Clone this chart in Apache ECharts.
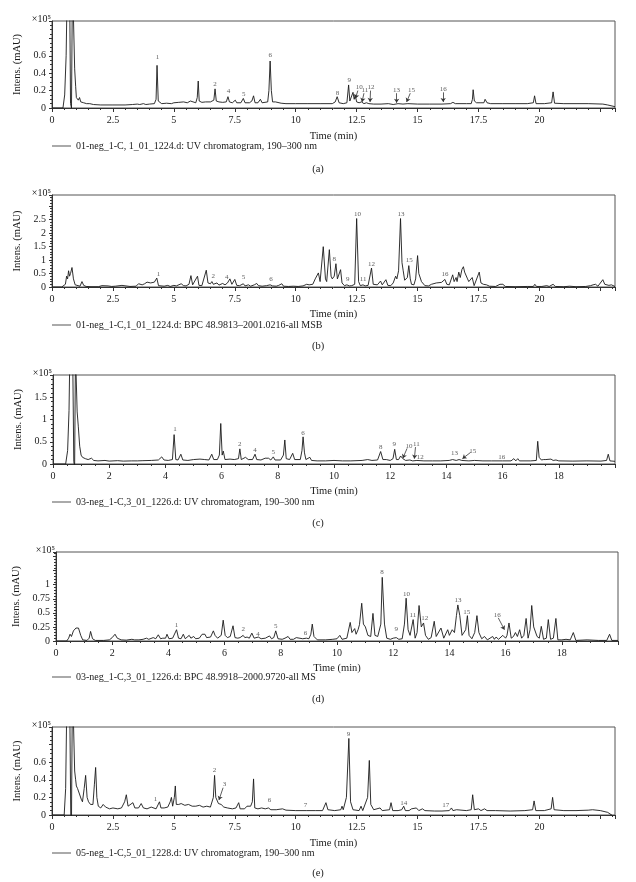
<!DOCTYPE html>
<html>
<head>
<meta charset="utf-8">
<script src="https://cdn.jsdelivr.net/npm/echarts@6/dist/echarts.min.js"></script>
<style>html,body{margin:0;padding:0;background:#fff}#c{width:636px;height:882px}</style>
</head>
<body>
<div id="c"></div>
<script>
// ---------- DATA ----------
const legendA = '01-neg_1-C, 1_01_1224.d: UV chromatogram, 190\u2013300 nm';
const legendB = '01-neg_1-C,1_01_1224.d: BPC 48.9813\u20132001.0216-all MSB';
const legendC = '03-neg_1-C,3_01_1226.d: UV chromatogram, 190\u2013300 nm';
const legendD = '03-neg_1-C,3_01_1226.d: BPC 48.9918\u20132000.9720-all MS';
const legendE = '05-neg_1-C,5_01_1228.d: UV chromatogram, 190\u2013300 nm';

const xTickLabelsA = ['0','2.5','5','7.5','10','12.5','15','17.5','20'];
const xTickLabelsC = ['0','2','4','6','8','10','12','14','16','18'];
const yTickLabelsA = ['0','0.2','0.4','0.6'];
const yTickLabelsB = ['0','0.5','1','1.5','2','2.5'];
const yTickLabelsC = ['0','0.5','1','1.5'];
const yTickLabelsD = ['0','0.25','0.5','0.75','1'];
const yTickLabelsE = ['0','0.2','0.4','0.6'];

// [time (min), intensity (x10^5)]
const traceA = [[0,0],[0.45,0],[0.52,0.15],[0.58,0.6],[0.63,1.5],[0.72,1.5],[0.76,0.05],[0.8,0],[0.84,1.5],[0.9,1.5],[0.93,0.45],[0.97,0.25],[1.0,0.12],[1.04,0.14],[1.08,0.09],[1.13,0.12],[1.18,0.07],[1.25,0.08],[1.3,0.06],[1.36,0.08],[1.42,0.05],[1.55,0.05],[1.7,0.04],[2.0,0.035],[2.5,0.035],[3.0,0.035],[3.3,0.04],[3.5,0.045],[3.6,0.04],[3.75,0.05],[3.85,0.04],[4.0,0.045],[4.2,0.05],[4.27,0.1],[4.31,0.49],[4.36,0.08],[4.42,0.06],[4.5,0.05],[4.7,0.055],[4.9,0.05],[5.0,0.06],[5.2,0.065],[5.4,0.07],[5.55,0.06],[5.68,0.08],[5.75,0.06],[5.9,0.06],[5.96,0.12],[6.0,0.31],[6.04,0.08],[6.15,0.065],[6.3,0.07],[6.5,0.07],[6.64,0.09],[6.69,0.22],[6.74,0.08],[6.85,0.07],[7.0,0.065],[7.15,0.07],[7.22,0.13],[7.28,0.07],[7.4,0.06],[7.52,0.09],[7.58,0.06],[7.75,0.06],[7.85,0.11],[7.92,0.06],[8.1,0.06],[8.2,0.08],[8.27,0.14],[8.33,0.06],[8.45,0.06],[8.55,0.1],[8.62,0.06],[8.85,0.07],[8.9,0.2],[8.95,0.54],[9.0,0.2],[9.05,0.07],[9.17,0.07],[9.22,0.06],[9.4,0.055],[9.6,0.05],[10,0.05],[10.5,0.05],[11,0.05],[11.5,0.05],[11.62,0.07],[11.7,0.13],[11.78,0.06],[11.95,0.05],[12.1,0.06],[12.17,0.265],[12.22,0.08],[12.3,0.07],[12.35,0.18],[12.4,0.1],[12.44,0.15],[12.5,0.07],[12.6,0.06],[12.7,0.07],[12.8,0.05],[12.9,0.06],[13.0,0.05],[13.2,0.045],[13.5,0.045],[13.8,0.05],[14.0,0.04],[14.2,0.05],[14.4,0.045],[14.6,0.05],[15,0.045],[15.5,0.045],[16,0.045],[16.35,0.05],[16.45,0.065],[16.55,0.05],[17.0,0.05],[17.2,0.05],[17.25,0.1],[17.28,0.21],[17.33,0.08],[17.42,0.06],[17.5,0.07],[17.6,0.06],[17.72,0.06],[17.77,0.1],[17.85,0.06],[17.93,0.08],[18.0,0.05],[18.5,0.05],[19.0,0.05],[19.5,0.05],[19.75,0.06],[19.8,0.14],[19.86,0.05],[20.2,0.05],[20.5,0.06],[20.56,0.185],[20.62,0.055],[21,0.05],[21.5,0.05],[22,0.05],[22.6,0.045],[22.8,0.035],[23.1,0.015]];

const traceB = [[0,0],[0.4,0],[0.45,0.02],[0.55,0.1],[0.6,0.4],[0.64,0.3],[0.68,0.6],[0.72,0.4],[0.76,0.5],[0.82,0.72],[0.88,0.3],[0.95,0.08],[1.0,0.02],[1.15,0.03],[1.23,0.2],[1.3,0.06],[1.4,0.02],[1.6,0.01],[1.9,0.01],[2.05,0.05],[2.1,0.03],[2.3,0.04],[2.45,0.02],[2.6,0.03],[2.87,0.06],[2.95,0.02],[3.2,0.02],[3.45,0.03],[3.55,0.12],[3.62,0.17],[3.7,0.08],[3.8,0.12],[3.9,0.18],[3.97,0.12],[4.05,0.15],[4.12,0.2],[4.2,0.18],[4.3,0.33],[4.37,0.05],[4.45,0.01],[4.6,0.03],[4.75,0.06],[4.85,0.02],[5.0,0.06],[5.1,0.04],[5.3,0.12],[5.4,0.05],[5.5,0.04],[5.62,0.1],[5.7,0.42],[5.77,0.08],[5.85,0.04],[5.97,0.4],[6.03,0.06],[6.15,0.05],[6.33,0.62],[6.4,0.15],[6.5,0.12],[6.56,0.2],[6.62,0.1],[6.7,0.12],[6.77,0.15],[6.85,0.07],[7.0,0.13],[7.1,0.08],[7.2,0.15],[7.3,0.3],[7.38,0.1],[7.5,0.28],[7.58,0.06],[7.7,0.05],[7.85,0.12],[7.92,0.04],[8.06,0.08],[8.15,0.03],[8.3,0.08],[8.4,0.13],[8.47,0.05],[8.54,0.1],[8.62,0.03],[8.8,0.05],[8.95,0.08],[9.05,0.04],[9.2,0.03],[9.3,0.06],[9.43,0.12],[9.5,0.03],[9.7,0.02],[9.9,0.03],[10.1,0.02],[10.3,0.04],[10.45,0.1],[10.55,0.08],[10.6,0.15],[10.7,0.1],[10.8,0.3],[10.93,0.52],[11.0,0.2],[11.13,1.49],[11.22,0.3],[11.27,0.2],[11.38,1.38],[11.45,0.4],[11.5,0.3],[11.58,0.4],[11.65,0.86],[11.71,0.3],[11.75,0.25],[11.84,0.64],[11.9,0.15],[12.0,0.05],[12.1,0.08],[12.2,0.04],[12.3,0.05],[12.42,0.1],[12.5,2.53],[12.58,0.2],[12.65,0.05],[12.76,0.08],[12.85,0.04],[12.97,0.06],[13.05,0.1],[13.11,0.7],[13.18,0.1],[13.25,0.05],[13.35,0.08],[13.48,0.22],[13.55,0.08],[13.62,0.1],[13.7,0.27],[13.78,0.06],[13.9,0.05],[14.0,0.15],[14.1,0.4],[14.15,0.3],[14.22,0.6],[14.3,2.53],[14.36,0.9],[14.41,0.6],[14.47,0.25],[14.52,0.25],[14.58,0.35],[14.64,0.79],[14.7,0.3],[14.75,0.1],[14.85,0.08],[14.92,0.3],[15.0,1.16],[15.05,0.5],[15.1,0.5],[15.16,0.2],[15.3,0.05],[15.45,0.04],[15.57,0.1],[15.65,0.06],[15.77,0.15],[15.85,0.08],[15.98,0.17],[16.05,0.1],[16.12,0.28],[16.2,0.1],[16.3,0.08],[16.44,0.45],[16.5,0.2],[16.58,0.35],[16.62,0.2],[16.69,0.55],[16.75,0.35],[16.82,0.65],[16.88,0.75],[16.93,0.55],[16.99,0.6],[17.05,0.3],[17.1,0.2],[17.17,0.15],[17.24,0.35],[17.32,0.05],[17.4,0.08],[17.53,0.55],[17.6,0.15],[17.7,0.1],[17.83,0.08],[17.95,0.03],[18.2,0.02],[18.38,0.1],[18.44,0.06],[18.5,0.1],[18.6,0.02],[19.0,0.01],[19.5,0.02],[19.75,0.02],[19.81,0.1],[19.88,0.02],[20.1,0.02],[20.3,0.05],[20.4,0.02],[20.56,0.1],[20.65,0.02],[21.0,0.01],[21.24,0.03],[21.5,0.01],[21.9,0.02],[22.1,0.05],[22.2,0.08],[22.3,0.1],[22.4,0.03],[22.6,0.27],[22.68,0.1],[22.75,0.12],[22.85,0.06],[22.95,0.08],[23.1,0.02]];

const traceC = [[0,0],[0.45,0],[0.52,0.3],[0.57,1.2],[0.6,2.5],[0.7,2.5],[0.74,0.05],[0.77,-0.05],[0.8,2.5],[0.83,2.5],[0.86,1.17],[0.9,0.85],[0.95,0.4],[1.0,0.2],[1.05,0.15],[1.15,0.12],[1.25,0.1],[1.37,0.13],[1.45,0.08],[1.6,0.07],[1.85,0.08],[2.0,0.065],[2.3,0.075],[2.5,0.065],[2.8,0.07],[3.0,0.07],[3.2,0.075],[3.5,0.08],[3.75,0.09],[3.87,0.16],[3.95,0.09],[4.1,0.08],[4.25,0.1],[4.31,0.66],[4.37,0.1],[4.45,0.09],[4.55,0.22],[4.62,0.09],[4.8,0.08],[5.0,0.1],[5.23,0.11],[5.4,0.1],[5.55,0.09],[5.65,0.22],[5.72,0.1],[5.85,0.1],[5.92,0.2],[5.97,0.91],[6.02,0.2],[6.06,0.29],[6.12,0.1],[6.3,0.11],[6.45,0.1],[6.6,0.12],[6.65,0.34],[6.7,0.1],[6.85,0.15],[6.95,0.1],[7.1,0.1],[7.19,0.22],[7.25,0.1],[7.4,0.09],[7.55,0.13],[7.6,0.09],[7.67,0.13],[7.75,0.09],[7.84,0.16],[7.9,0.09],[8.1,0.09],[8.2,0.2],[8.25,0.54],[8.3,0.12],[8.42,0.1],[8.53,0.24],[8.6,0.1],[8.8,0.1],[8.86,0.3],[8.9,0.61],[8.95,0.25],[9.0,0.1],[9.14,0.15],[9.2,0.08],[9.4,0.07],[9.7,0.07],[10,0.08],[10.3,0.07],[10.6,0.07],[11.0,0.08],[11.2,0.1],[11.25,0.12],[11.35,0.08],[11.55,0.09],[11.66,0.28],[11.74,0.1],[11.86,0.1],[12.0,0.08],[12.1,0.12],[12.16,0.33],[12.22,0.1],[12.3,0.1],[12.37,0.18],[12.45,0.12],[12.55,0.08],[12.7,0.09],[12.8,0.07],[12.95,0.08],[13.2,0.07],[13.5,0.07],[13.8,0.07],[14.1,0.08],[14.22,0.1],[14.29,0.13],[14.35,0.08],[14.45,0.1],[14.55,0.08],[14.8,0.07],[15.0,0.08],[15.3,0.07],[15.6,0.07],[16.0,0.07],[16.3,0.07],[16.4,0.12],[16.47,0.07],[16.54,0.12],[16.6,0.07],[17.0,0.07],[17.2,0.08],[17.25,0.51],[17.3,0.15],[17.38,0.09],[17.46,0.1],[17.54,0.1],[17.6,0.08],[17.72,0.11],[17.8,0.08],[17.9,0.09],[18.0,0.07],[18.5,0.065],[19.0,0.07],[19.5,0.065],[19.7,0.08],[19.76,0.22],[19.82,0.07],[20,0.06]];

const traceD = [[0,0],[0.38,0],[0.45,0.05],[0.5,0.12],[0.55,0.08],[0.58,0.1],[0.62,0.18],[0.67,0.2],[0.71,0.23],[0.8,0.23],[0.88,0.1],[0.95,0.02],[1.1,0.01],[1.18,0.05],[1.23,0.17],[1.3,0.04],[1.4,0.01],[1.7,0.01],[1.9,0.02],[2.0,0.06],[2.1,0.12],[2.18,0.05],[2.25,0.06],[2.32,0.02],[2.5,0.015],[2.7,0.03],[2.8,0.02],[2.87,0.04],[2.95,0.02],[3.1,0.03],[3.22,0.05],[3.3,0.03],[3.46,0.06],[3.55,0.04],[3.64,0.11],[3.72,0.04],[3.8,0.05],[3.87,0.08],[3.9,0.05],[3.95,0.12],[4.02,0.04],[4.15,0.05],[4.29,0.2],[4.36,0.05],[4.45,0.04],[4.53,0.12],[4.6,0.04],[4.74,0.1],[4.8,0.05],[4.9,0.08],[4.97,0.04],[5.1,0.05],[5.2,0.12],[5.26,0.15],[5.3,0.12],[5.36,0.06],[5.5,0.07],[5.6,0.18],[5.66,0.1],[5.75,0.05],[5.88,0.1],[5.95,0.37],[6.02,0.1],[6.1,0.06],[6.2,0.08],[6.3,0.27],[6.37,0.06],[6.47,0.05],[6.55,0.06],[6.66,0.1],[6.72,0.06],[6.8,0.07],[6.88,0.05],[6.97,0.14],[7.05,0.05],[7.2,0.07],[7.3,0.04],[7.45,0.05],[7.6,0.09],[7.67,0.04],[7.75,0.06],[7.82,0.18],[7.9,0.04],[8.05,0.03],[8.15,0.05],[8.26,0.08],[8.33,0.03],[8.45,0.03],[8.55,0.06],[8.62,0.03],[8.78,0.04],[8.91,0.05],[9.0,0.04],[9.07,0.12],[9.12,0.3],[9.18,0.08],[9.3,0.02],[9.6,0.02],[9.85,0.03],[9.92,0.06],[10.0,0.04],[10.1,0.1],[10.18,0.03],[10.35,0.05],[10.47,0.33],[10.53,0.15],[10.58,0.18],[10.63,0.22],[10.68,0.12],[10.75,0.2],[10.8,0.29],[10.88,0.67],[10.94,0.3],[11.01,0.25],[11.1,0.1],[11.2,0.08],[11.28,0.49],[11.35,0.1],[11.45,0.08],[11.52,0.06],[11.56,0.3],[11.61,1.13],[11.69,0.3],[11.77,0.05],[11.9,0.03],[12.0,0.05],[12.11,0.06],[12.2,0.03],[12.32,0.04],[12.4,0.3],[12.46,0.76],[12.53,0.2],[12.6,0.1],[12.71,0.38],[12.78,0.05],[12.85,0.15],[12.92,0.63],[13.0,0.25],[13.08,0.32],[13.15,0.1],[13.25,0.03],[13.35,0.06],[13.46,0.35],[13.53,0.08],[13.6,0.06],[13.7,0.23],[13.8,0.05],[13.94,0.2],[14.0,0.1],[14.1,0.2],[14.18,0.15],[14.25,0.45],[14.3,0.64],[14.37,0.45],[14.45,0.1],[14.52,0.1],[14.58,0.2],[14.64,0.45],[14.7,0.1],[14.8,0.04],[14.9,0.15],[14.98,0.45],[15.05,0.15],[15.15,0.04],[15.25,0.08],[15.35,0.02],[15.54,0.08],[15.6,0.03],[15.66,0.07],[15.75,0.03],[15.9,0.1],[16.0,0.05],[16.05,0.1],[16.12,0.32],[16.2,0.05],[16.28,0.08],[16.35,0.15],[16.42,0.08],[16.5,0.2],[16.57,0.05],[16.65,0.1],[16.73,0.4],[16.8,0.05],[16.87,0.2],[16.93,0.63],[17.0,0.25],[17.06,0.22],[17.12,0.08],[17.2,0.05],[17.27,0.26],[17.35,0.03],[17.45,0.05],[17.52,0.38],[17.6,0.03],[17.7,0.05],[17.79,0.4],[17.86,0.02],[18.0,0.02],[18.15,0.03],[18.3,0.02],[18.41,0.15],[18.5,0.01],[18.9,0.02],[19.3,0.01],[19.6,0.01],[19.7,0.12],[19.78,0.01],[20,0.01]];

const traceE = [[0,0],[0.5,0],[0.56,0.3],[0.62,1.5],[0.72,1.5],[0.77,0],[0.8,-0.03],[0.84,1.5],[0.9,1.5],[0.93,0.5],[0.97,0.4],[1.0,0.33],[1.05,0.3],[1.13,0.28],[1.2,0.18],[1.25,0.15],[1.32,0.3],[1.38,0.45],[1.44,0.2],[1.5,0.15],[1.58,0.12],[1.62,0.1],[1.68,0.12],[1.74,0.35],[1.79,0.54],[1.84,0.2],[1.9,0.1],[2.0,0.08],[2.1,0.12],[2.2,0.09],[2.36,0.07],[2.5,0.08],[2.57,0.1],[2.7,0.07],[2.85,0.08],[2.98,0.15],[3.05,0.23],[3.12,0.1],[3.2,0.08],[3.32,0.14],[3.4,0.08],[3.55,0.08],[3.66,0.13],[3.75,0.08],[3.9,0.07],[4.07,0.09],[4.15,0.07],[4.27,0.07],[4.35,0.08],[4.41,0.15],[4.47,0.08],[4.6,0.08],[4.75,0.09],[4.85,0.15],[4.9,0.2],[4.95,0.1],[5.02,0.2],[5.06,0.33],[5.1,0.12],[5.2,0.12],[5.3,0.13],[5.45,0.11],[5.6,0.12],[5.75,0.1],[5.9,0.1],[6.05,0.11],[6.2,0.09],[6.35,0.1],[6.5,0.09],[6.62,0.2],[6.67,0.45],[6.72,0.2],[6.78,0.18],[6.83,0.13],[6.94,0.12],[7.05,0.09],[7.2,0.08],[7.4,0.07],[7.55,0.08],[7.62,0.1],[7.66,0.14],[7.72,0.07],[7.9,0.07],[8.0,0.1],[8.07,0.12],[8.15,0.1],[8.22,0.15],[8.27,0.41],[8.32,0.08],[8.45,0.07],[8.6,0.08],[8.75,0.07],[8.88,0.08],[8.92,0.1],[8.98,0.06],[9.2,0.06],[9.46,0.07],[9.6,0.055],[10.0,0.05],[10.43,0.05],[10.8,0.05],[11.1,0.05],[11.24,0.14],[11.32,0.06],[11.6,0.05],[11.85,0.06],[11.9,0.1],[11.95,0.06],[12.08,0.2],[12.18,0.87],[12.25,0.15],[12.35,0.06],[12.6,0.05],[12.68,0.1],[12.75,0.05],[12.95,0.2],[13.02,0.62],[13.08,0.12],[13.2,0.06],[13.46,0.08],[13.55,0.05],[13.85,0.06],[13.91,0.14],[13.98,0.05],[14.2,0.05],[14.35,0.06],[14.43,0.1],[14.5,0.05],[14.65,0.05],[14.75,0.07],[14.82,0.05],[14.95,0.08],[15.05,0.05],[15.2,0.07],[15.3,0.05],[15.7,0.045],[16.0,0.045],[16.3,0.05],[16.39,0.08],[16.45,0.05],[16.6,0.06],[17.0,0.05],[17.2,0.06],[17.26,0.23],[17.33,0.06],[17.5,0.07],[17.6,0.05],[17.75,0.07],[17.85,0.05],[18.2,0.05],[18.8,0.045],[19.4,0.05],[19.72,0.06],[19.78,0.16],[19.85,0.05],[20.2,0.05],[20.48,0.07],[20.54,0.2],[20.6,0.06],[21.0,0.05],[21.5,0.05],[22.0,0.055],[22.18,0.06],[22.5,0.05],[22.8,0.03],[23.07,-0.02]];

// peak number labels: [text, time, intensity]
const peakLabelsA = [['1',4.33,0.58],['2',6.69,0.27],['4',7.24,0.19],['5',7.87,0.16],['6',8.95,0.61],['8',11.71,0.17],['9',12.2,0.32],['10',12.61,0.235],['11',12.84,0.2],['12',13.09,0.235],['13',14.14,0.2],['15',14.75,0.2],['16',16.05,0.22]];
const peakLabelsB = [['1',4.37,0.49],['2',6.62,0.4],['4',7.17,0.37],['5',7.86,0.37],['6',8.99,0.3],['8',11.58,1.04],['9',12.13,0.3],['10',12.53,2.68],['11',12.77,0.3],['12',13.11,0.86],['13',14.32,2.68],['15',14.66,0.98],['16',16.12,0.48]];
const peakLabelsC = [['1',4.34,0.78],['2',6.65,0.45],['4',7.19,0.31],['5',7.84,0.27],['6',8.9,0.69],['8',11.66,0.37],['9',12.14,0.44],['10',12.67,0.4],['11',12.93,0.44],['12',13.07,0.16],['13',14.29,0.24],['15',14.94,0.29],['16',15.97,0.15]];
const peakLabelsD = [['1',4.29,0.29],['2',6.66,0.21],['4',7.19,0.13],['5',7.82,0.27],['6',8.88,0.14],['8',11.6,1.22],['9',12.11,0.21],['10',12.47,0.83],['11',12.7,0.46],['12',13.12,0.4],['13',14.31,0.73],['15',14.62,0.52],['16',15.7,0.46]];
const peakLabelsE = [['1',4.25,0.18],['2',6.67,0.51],['3',7.08,0.35],['6',8.92,0.17],['7',10.4,0.11],['9',12.17,0.92],['14',14.43,0.14],['17',16.16,0.11]];

// arrows: [fromTime, fromIntensity, toTime, toIntensity]
const arrowsA = [[12.55,0.2,12.45,0.11],[12.8,0.17,12.72,0.07],[13.07,0.2,13.05,0.07],[14.14,0.17,14.14,0.06],[14.7,0.17,14.55,0.07],[16.05,0.18,16.05,0.07]];
const arrowsB = [];
const arrowsC = [[12.6,0.35,12.45,0.13],[12.9,0.38,12.86,0.12],[14.86,0.26,14.57,0.12]];
const arrowsD = [[15.74,0.41,15.96,0.2]];
const arrowsE = [[7.02,0.31,6.85,0.17]];

// ---------- CHART ----------
const FONT = '"Liberation Serif", "Times New Roman", serif';
const INK = '#1a1a1a';

const panels = [
  {name: legendA, trace: traceA, labels: peakLabelsA, arrows: arrowsA, xMax: 23.1, xInt: 2.5, xMinor: 5, xTicks: xTickLabelsA,
   yMax: 1.0, yInt: 0.2, yMinor: 4, yTicks: yTickLabelsA, grid: {left: 52, top: 21, width: 563, height: 87}, yGap: 25, xGap: 23, tag: '(a)', tagY: 169, legY: 146},
  {name: legendB, trace: traceB, labels: peakLabelsB, arrows: arrowsB, xMax: 23.1, xInt: 2.5, xMinor: 5, xTicks: xTickLabelsA,
   yMax: 3.4, yInt: 0.5, yMinor: 5, yTicks: yTickLabelsB, grid: {left: 52, top: 195, width: 563, height: 92}, yGap: 25, xGap: 21.5, tag: '(b)', tagY: 346, legY: 325},
  {name: legendC, trace: traceC, labels: peakLabelsC, arrows: arrowsC, xMax: 20, xInt: 2, xMinor: 4, xTicks: xTickLabelsC,
   yMax: 2.0, yInt: 0.5, yMinor: 5, yTicks: yTickLabelsC, grid: {left: 53, top: 375, width: 562, height: 89}, yGap: 27, xGap: 21.5, tag: '(c)', tagY: 523, legY: 502},
  {name: legendD, trace: traceD, labels: peakLabelsD, arrows: arrowsD, xMax: 20, xInt: 2, xMinor: 4, xTicks: xTickLabelsC,
   yMax: 1.58, yInt: 0.25, yMinor: 5, yTicks: yTickLabelsD, grid: {left: 56, top: 552, width: 562, height: 89}, yGap: 32, xGap: 21.5, tag: '(d)', tagY: 699, legY: 677},
  {name: legendE, trace: traceE, labels: peakLabelsE, arrows: arrowsE, xMax: 23.1, xInt: 2.5, xMinor: 5, xTicks: xTickLabelsA,
   yMax: 1.0, yInt: 0.2, yMinor: 4, yTicks: yTickLabelsE, grid: {left: 52, top: 727, width: 563, height: 88}, yGap: 25, xGap: 22.5, tag: '(e)', tagY: 873, legY: 853}
];

function pick(list) {
  return function (v) {
    const s = String(Math.round(v * 1000) / 1000);
    return list.indexOf(s) >= 0 ? s : '';
  };
}

const option = {
  animation: false,
  backgroundColor: '#fff',
  textStyle: {fontFamily: FONT, color: INK},
  grid: [], xAxis: [], yAxis: [], series: [], legend: [], graphic: []
};

panels.forEach(function (p, i) {
  option.grid.push(Object.assign({show: true, borderColor: '#555', borderWidth: 1, backgroundColor: 'transparent', containLabel: false}, p.grid));
  option.xAxis.push({
    type: 'value', gridIndex: i, min: 0, max: p.xMax, interval: p.xInt,
    name: 'Time (min)', nameLocation: 'middle', nameGap: p.xGap,
    nameTextStyle: {fontFamily: FONT, fontSize: 10.5, color: INK},
    axisLine: {lineStyle: {color: '#333', width: 1}},
    axisTick: {show: true, inside: false, length: 4, lineStyle: {color: '#333'}},
    minorTick: {show: true, splitNumber: p.xMinor, length: 2, lineStyle: {color: '#333'}},
    splitLine: {show: false},
    axisLabel: {fontFamily: FONT, fontSize: 10, color: INK, margin: 7, showMaxLabel: false, formatter: pick(p.xTicks)}
  });
  option.yAxis.push({
    type: 'value', gridIndex: i, min: 0, max: p.yMax, interval: p.yInt,
    name: 'Intens. (mAU)', nameLocation: 'middle', nameGap: p.yGap, nameRotate: 90,
    nameTextStyle: {fontFamily: FONT, fontSize: 10.5, color: INK},
    axisLine: {show: true, lineStyle: {color: '#333', width: 1}},
    axisTick: {show: true, inside: false, length: 3, lineStyle: {color: '#333'}},
    minorTick: {show: true, splitNumber: p.yMinor, length: 2, lineStyle: {color: '#333'}},
    splitLine: {show: false},
    axisLabel: {fontFamily: FONT, fontSize: 10, color: INK, margin: 6, showMaxLabel: false, formatter: pick(p.yTicks)}
  });
  option.series.push({
    type: 'line', name: p.name, xAxisIndex: i, yAxisIndex: i, data: p.trace,
    symbol: 'none', showSymbol: false, clip: true, silent: true,
    lineStyle: {color: INK, width: 0.9}, itemStyle: {color: INK}
  });
  option.series.push({
    type: 'scatter', name: 'peaks' + i, xAxisIndex: i, yAxisIndex: i,
    data: p.labels.map(function (l) { return {name: l[0], value: [l[1], l[2]]}; }),
    symbolSize: 1, silent: true, itemStyle: {color: 'rgba(0,0,0,0)'},
    label: {show: true, position: 'inside', formatter: '{b}', fontFamily: FONT, fontSize: 7, color: '#333'},
    markLine: {
      silent: true, symbol: ['none', 'arrow'], symbolSize: 4,
      lineStyle: {color: '#333', width: 0.8, type: 'solid'}, label: {show: false},
      data: p.arrows.map(function (a) { return [{coord: [a[0], a[1]]}, {coord: [a[2], a[3]]}]; })
    }
  });
  option.legend.push({
    data: [{name: p.name, icon: 'rect'}], left: 52, top: p.legY - 6, padding: 0, itemWidth: 19, itemHeight: 1,
    selectedMode: false, itemStyle: {color: '#555', borderWidth: 0},
    textStyle: {fontFamily: FONT, fontSize: 10, color: INK, lineHeight: 12}
  });
  option.graphic.push({
    type: 'text', x: p.grid.left - 1, y: p.grid.top - 2, silent: true,
    style: {text: '\u00d710\u2075', fontFamily: FONT, fontSize: 10, fill: INK, align: 'right', verticalAlign: 'middle', textAlign: 'right', textVerticalAlign: 'middle'}
  });
  option.graphic.push({
    type: 'text', x: 318, y: p.tagY, silent: true,
    style: {text: p.tag, fontFamily: FONT, fontSize: 10.5, fill: INK, align: 'center', verticalAlign: 'middle', textAlign: 'center', textVerticalAlign: 'middle'}
  });
});

const chart = echarts.init(document.getElementById('c'), null, {renderer: 'canvas'});
chart.setOption(option);
</script>
</body>
</html>
